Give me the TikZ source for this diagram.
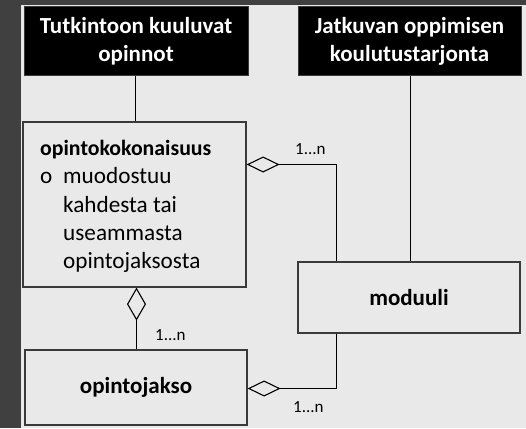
\documentclass[tikz,border=0pt]{standalone}
\usepackage{fontspec}
\setmainfont{Carlito}
\usetikzlibrary{arrows.meta}

\definecolor{frame}{HTML}{404040}
\definecolor{paper}{HTML}{E9E9E9}
\definecolor{edge}{HTML}{3A3A3A}

\tikzset{
  x=1pt, y=-1pt,
  titlebox/.style={draw=edge, line width=1pt, fill=black, text=white,
    font=\fontsize{23}{28}\selectfont\bfseries, align=center, inner sep=0pt},
  classbox/.style={draw=edge, line width=1.2pt, fill=paper, inner sep=0pt},
  bodytext/.style={anchor=base west, inner sep=0pt, font=\fontsize{23.2}{28}\selectfont},
  mult/.style={anchor=base west, inner sep=0pt, font=\fontsize{17}{20}\selectfont},
  link/.style={draw=black, line width=1.1pt},
  agg/.style={link, -{Diamond[open, length=33pt, width=#1, line width=1.1pt]}},
}

\begin{document}
\begin{tikzpicture}
  % page: dark frame strip and light drawing area
  \useasboundingbox (0,0) rectangle (526,428);
  \fill[frame] (0,0) rectangle (526,428);
  \fill[paper] (21,5) rectangle (526,428);

  % heading boxes
  \node[titlebox, minimum width=224pt, minimum height=68pt] (tutk) at (136,41)
    {Tutkintoon kuuluvat\\opinnot};
  \node[titlebox, minimum width=223pt, minimum height=68pt] (jatk) at (409.5,41)
    {Jatkuvan oppimisen\\koulutustarjonta};

  % class boxes
  \node[classbox, minimum width=223pt, minimum height=165pt] (kok) at (134.5,204.5) {};
  \node[classbox, minimum width=222pt, minimum height=71pt,
        font=\fontsize{23}{28}\selectfont\bfseries] (mod) at (409,297.5) {moduuli};
  \node[classbox, minimum width=222pt, minimum height=75pt,
        font=\fontsize{23}{28}\selectfont\bfseries] (jakso) at (136,387.5) {opintojakso};

  % contents of the composite box
  \node[bodytext, font=\fontsize{21.8}{28}\selectfont\bfseries] (kname) at (40,155) {opintokokonaisuus};
  \node[bodytext] (kbul) at (40,183) {o};
  \node[bodytext] (kl1) at (63,183) {muodostuu};
  \node[bodytext] (kl2) at (63,212) {kahdesta tai};
  \node[bodytext] (kl3) at (63,240) {useammasta};
  \node[bodytext] (kl4) at (63,268) {opintojaksosta};

  % plain associations
  \draw[link] (tutk.south -| 135.5,0) -- (kok.north -| 135.5,0);
  \draw[link] (jatk.south -| 410.5,0) -- (mod.north -| 410.5,0);

  % aggregations
  \draw[agg=16pt] (mod.north -| 336.5,0) |- (kok.east |- 0,164.5);
  \draw[agg=16pt] (mod.south -| 336.5,0) |- (jakso.east |- 0,388.5);
  \draw[agg=19pt] (jakso.north -| 136.5,0) -- (kok.south -| 136.5,0);

  % multiplicities
  \node[mult] (m1) at (295,154) {1...n};
  \node[mult] (m2) at (293,412) {1...n};
  \node[mult] (m3) at (155,340) {1...n};
\end{tikzpicture}
\end{document}
